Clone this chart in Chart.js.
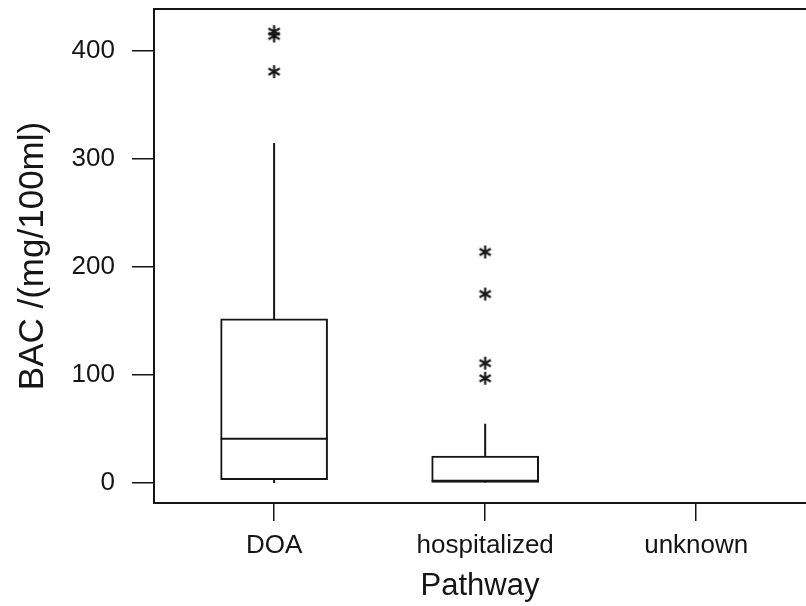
<!DOCTYPE html>
<html>
<head>
<meta charset="utf-8">
<script src="https://cdn.jsdelivr.net/npm/chart.js@4/dist/chart.umd.min.js"></script>
<style>
  html, body { margin: 0; padding: 0; background: #fff; }
  #wrap { width: 806px; height: 606px; }
</style>
</head>
<body>
<div id="wrap"><canvas id="bacChart" width="806" height="606"></canvas></div>
<script>
// BAC by pathway - box plot (boxes are floating bars, whiskers/medians drawn via scales)

var categories = ['DOA', 'hospitalized', 'unknown'];
var yTicks = [0, 100, 200, 300, 400];

// per category (unknown has no data)
var q1 = [3, 0.5, null];
var medians = [41, 2, null];
var q3 = [152, 25, null];
var whiskerLow = [0, 0, null];
var whiskerHigh = [315, 55, null];

// outliers (category index, value)
var outlierCat = [0, 0, 0, 1, 1, 1, 1];
var outlierVal = [418, 414, 381, 214, 175, 111, 97];

var ink = '#151515';
var font = "'Liberation Sans', Arial, Helvetica, sans-serif";

// 6-armed asterisk marker
function makeAsterisk() {
    var c = document.createElement('canvas');
    c.width = 15; c.height = 15;
    var g = c.getContext('2d');
    g.strokeStyle = ink;
    g.lineWidth = 2.2;
    for (var k = 0; k < 3; k++) {
        var a = Math.PI / 2 + k * Math.PI / 3;
        g.beginPath();
        g.moveTo(7.5 - 6.5 * Math.cos(a), 7.5 - 6.5 * Math.sin(a));
        g.lineTo(7.5 + 6.5 * Math.cos(a), 7.5 + 6.5 * Math.sin(a));
        g.stroke();
    }
    return c;
}

var boxData = [];
for (var i = 0; i < categories.length; i++) {
    if (q1[i] !== null) boxData.push({x: i, y: [q1[i], q3[i]]});
}
var outlierData = outlierVal.map(function (v, j) { return {x: outlierCat[j], y: v}; });

var boxExtras = {
    id: 'boxExtras',
    afterDatasetsDraw: function (chart) {
        var ctx = chart.ctx;
        var xs = chart.scales.x, ys = chart.scales.y;
        var bars = chart.getDatasetMeta(0).data;
        ctx.save();
        ctx.strokeStyle = ink;
        ctx.lineWidth = 2;
        var b = 0;
        for (var i = 0; i < categories.length; i++) {
            if (q1[i] === null) continue;
            var el = bars[b++];
            var cx = xs.getPixelForValue(i);
            var half = el.width / 2;
            // whiskers
            ctx.beginPath();
            ctx.moveTo(cx, ys.getPixelForValue(q3[i]));
            ctx.lineTo(cx, ys.getPixelForValue(whiskerHigh[i]));
            ctx.moveTo(cx, ys.getPixelForValue(q1[i]));
            ctx.lineTo(cx, ys.getPixelForValue(whiskerLow[i]));
            ctx.stroke();
            // median
            var my = ys.getPixelForValue(medians[i]);
            ctx.beginPath();
            ctx.moveTo(cx - half, my);
            ctx.lineTo(cx + half, my);
            ctx.stroke();
        }
        // top edge of frame
        var a = chart.chartArea;
        ctx.beginPath();
        ctx.moveTo(a.left, a.top);
        ctx.lineTo(a.right, a.top);
        ctx.stroke();
        ctx.restore();
    }
};

function noPad(s) {
    s.paddingTop = 0; s.paddingBottom = 0;
    s.paddingLeft = 0; s.paddingRight = 0;
}

var ctx = document.getElementById('bacChart');

var bacChart = new Chart(ctx, {
    type: 'bar',
    data: {
        datasets: [{
            type: 'bar',
            data: boxData,
            backgroundColor: '#fff',
            borderColor: ink,
            borderWidth: 2,
            borderSkipped: false,
            barThickness: 107,
            order: 2
        }, {
            type: 'scatter',
            data: outlierData,
            pointStyle: makeAsterisk(),
            order: 1
        }]
    },
    options: {
        responsive: false,
        animation: false,
        layout: { autoPadding: false, padding: { top: 9, right: 0, left: 0, bottom: 0 } },
        plugins: { legend: { display: false }, tooltip: { enabled: false } },
        scales: {
            x: {
                type: 'linear',
                offset: false,
                min: -0.569,
                max: 2.52,
                afterBuildTicks: function (s) {
                    s.ticks = categories.map(function (c, i) { return {value: i}; });
                },
                afterFit: function (s) { s.height = 103; noPad(s); },
                ticks: {
                    callback: function (v) { return categories[v]; },
                    color: ink,
                    font: { family: font, size: 26 },
                    padding: 9,
                    maxRotation: 0,
                    autoSkip: false
                },
                grid: { drawOnChartArea: false, drawTicks: true, tickLength: 18, color: ink, lineWidth: 1.5, offset: false },
                border: { display: true, color: ink, width: 2 },
                title: {
                    display: true,
                    text: 'Pathway',
                    color: ink,
                    font: { family: font, size: 31 },
                    padding: { top: 0, bottom: 1 }
                }
            },
            y: {
                min: -18.5,
                max: 439,
                afterBuildTicks: function (s) {
                    s.ticks = yTicks.map(function (v) { return {value: v}; });
                },
                afterFit: function (s) { s.width = 154; noPad(s); },
                ticks: {
                    color: ink,
                    font: { family: font, size: 26 },
                    padding: 17
                },
                grid: { drawOnChartArea: false, drawTicks: true, tickLength: 22, color: ink, lineWidth: 1.5 },
                border: { display: true, color: ink, width: 2 },
                title: {
                    display: true,
                    text: 'BAC /(mg/100ml)',
                    color: ink,
                    font: { family: font, size: 35 },
                    padding: { top: 12, bottom: 0 }
                }
            }
        }
    },
    plugins: [boxExtras]
});
</script>
</body>
</html>
